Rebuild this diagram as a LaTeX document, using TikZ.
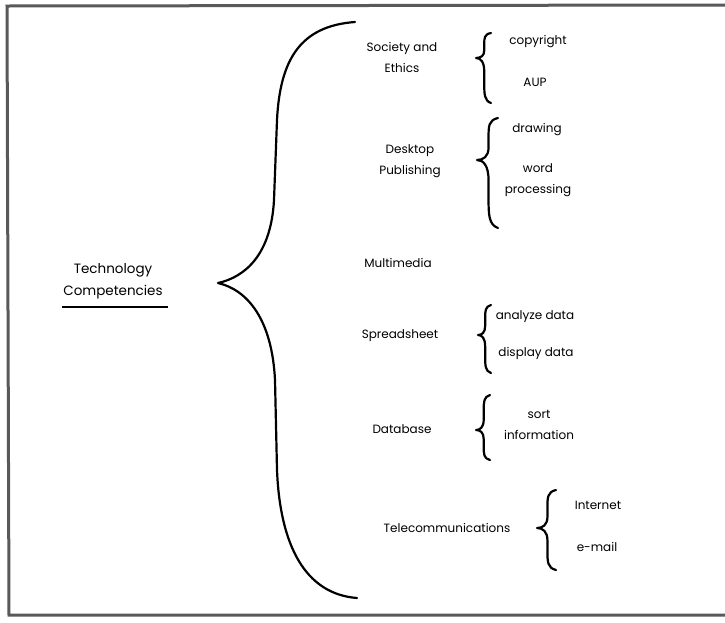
\documentclass[tikz,border=0pt]{standalone}
\usepackage{fontspec}
\setmainfont{Poppins}
\begin{document}
\begin{tikzpicture}[x=1pt,y=-1pt,
  lbl/.style={inner sep=0pt,font=\fontsize{12}{21}\selectfont,align=center},
  rootlbl/.style={inner sep=0pt,font=\fontsize{13.5}{16}\selectfont},
  bracestyle/.style={line width=2.2pt,line cap=round,line join=round},
  framestyle/.style={line width=3pt,black!65}]
\useasboundingbox (0,0) rectangle (725,622);
\fill[white] (0,0) rectangle (725,622);
% frame (top, left, bottom)
\coordinate (fTL) at (7,6);
\coordinate (fTR) at (725,5);
\coordinate (fBL) at (9,615);
\coordinate (fBR) at (725,615);
\draw[framestyle] (fTR) -- (fTL) -- (fBL) -- (fBR);

\newcommand\cbrace[5]{% tip x, end x, top y, mid y, bottom y
  \pgfmathsetmacro\xv{#1+0.55*(#2-#1)}%
  \pgfmathsetmacro\ha{#4-#3}%
  \pgfmathsetmacro\hb{#5-#4}%
  \draw[bracestyle] (#2,#3) .. controls (\xv,{#3+0.05*\ha}) and (\xv,{#3+0.2*\ha}) .. (\xv,{#3+0.45*\ha})
    -- (\xv,{#4-0.3*\ha}) .. controls (\xv,{#4-0.08*\ha}) and ({#1+0.3*(#2-#1)},#4) .. (#1,#4)
    .. controls ({#1+0.3*(#2-#1)},#4) and (\xv,{#4+0.08*\hb}) .. (\xv,{#4+0.3*\hb})
    -- (\xv,{#5-0.45*\hb}) .. controls (\xv,{#5-0.2*\hb}) and (\xv,{#5-0.05*\hb}) .. (#2,#5);}

% root
\node[rootlbl] (tech) at (113,270) {Technology};
\node[rootlbl] (comp) at (113,292) {Competencies};
\coordinate (ulA) at (62,307);
\coordinate (ulB) at (168,307);
\draw[line width=1.6pt] (ulA) -- (ulB);

% big brace
\coordinate (bigTop) at (355,22);
\coordinate (bigTip) at (218,283);
\coordinate (bigBot) at (357,598);
\draw[bracestyle] (bigTop) .. controls (300,26) and (280,60) .. (277,120)
  -- (274,200) .. controls (271,255) and (245,277) .. (bigTip)
  .. controls (248,290) and (272,320) .. (275,380)
  -- (277,470) .. controls (280,545) and (305,594) .. (bigBot);

% Society and Ethics
\node[lbl] (soc) at (402,57) {Society and\\Ethics};
\cbrace{476}{491}{33}{58}{103}
\node[lbl] (copy) at (538,42) {copyright};
\node[lbl] (aup) at (535,82) {AUP};

% Desktop Publishing
\node[lbl] (dtp) at (410,161) {Desktop\\Publishing};
\cbrace{477}{498}{118}{160}{228}
\node[lbl] (draw) at (537,130) {drawing};
\node[lbl] (word) at (538,180) {word\\processing};

% Multimedia
\node[lbl] (mm) at (398,263) {Multimedia};

% Spreadsheet
\node[lbl] (ss) at (400,336) {Spreadsheet};
\cbrace{478}{491}{305}{335}{373}
\node[lbl] (ana) at (535,317) {analyze data};
\node[lbl] (disp) at (536,353) {display data};

% Database
\node[lbl] (db) at (402,429) {Database};
\cbrace{476}{490}{395}{430}{460}
\node[lbl] (sort) at (539,425) {sort\\information};

% Telecommunications
\node[lbl] (tel) at (447,528) {Telecommunications};
\cbrace{537}{556}{490}{528}{570}
\node[lbl] (inet) at (598,505) {Internet};
\node[lbl] (mail) at (597,547) {e-mail};
\end{tikzpicture}
\end{document}
